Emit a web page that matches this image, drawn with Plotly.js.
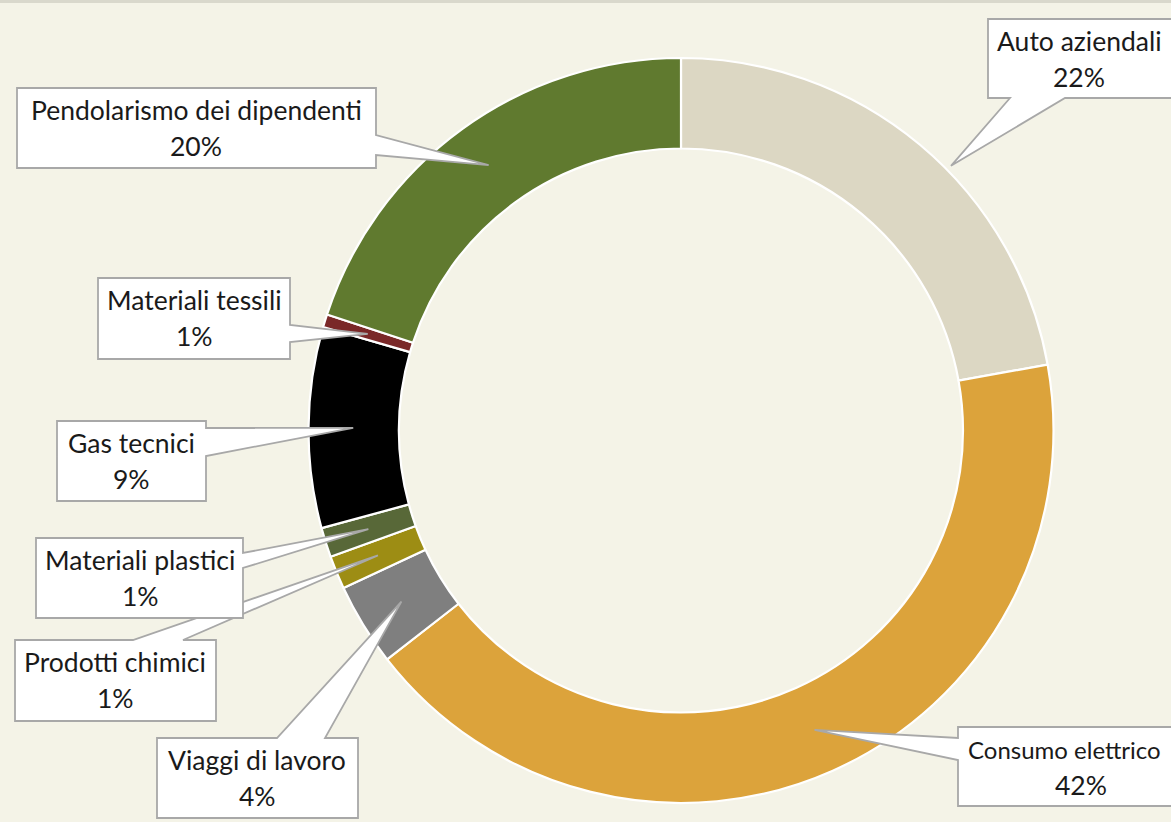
<!DOCTYPE html>
<html>
<head>
<meta charset="utf-8">
<script src="https://cdn.plot.ly/plotly-3.0.1.min.js"></script>
<style>html,body{margin:0;padding:0;background:#f4f3e7;}#chart{width:1171px;height:822px;}</style>
</head>
<body>
<div id="chart"></div>
<script>
// ---- data ----
const categories = ['Auto aziendali','Consumo elettrico','Viaggi di lavoro','Prodotti chimici','Materiali plastici','Gas tecnici','Materiali tessili','Pendolarismo dei dipendenti'];
const shares = [22.17, 42.30, 3.58, 1.45, 1.28, 8.70, 0.56, 19.96];
const sliceColors = ['#dcd7c3','#dca33b','#7f7f7f','#9d8d14','#586838','#000000','#7a2828','#607a2f'];

// ---- layout geometry (pixels) ----
const W = 1171, H = 822;
const CX = 681, CY = 430.5, R = 372.5, HOLE = 0.757;
const X = px => px / W;
const Y = py => 1 - py / H;

// callout boxes: [x0,y0,x1,y1], side of pointer, base span on that side, anchor fraction within slice, radius fraction
const callouts = [
  {box:[988,19,1185,98],  side:'bottom', base:[1010,1065], at:0.571, rf:1.015, tx:1079},
  {box:[958,727,1190,806], side:'left',  base:[738,760],   at:0.5,  rf:0.88,  tx:1081, nameLeft:966, nameSize:24},
  {box:[157,738,358,818], side:'top',    base:[277,325],   at:0.5,  rf:0.88,  tx:257},
  {box:[15,640,216,721],  side:'top',    base:[133,183],   at:0.5,  rf:0.88,  tx:115},
  {box:[36,538,243,618],  side:'right',  base:[553,568],   at:0.5,  rf:0.88,  tx:140},
  {box:[57,421,206,501],  side:'right',  base:[428,456],   at:0.5,  rf:0.88,  tx:131},
  {box:[98,278,290,359],  side:'right',  base:[325,342],   at:0.5,  rf:0.88,  tx:194},
  {box:[17,88,376,168],   side:'right',  base:[135,155],   at:0.5,  rf:0.88,  tx:196}
];
const drawOrder = [0,1,2,3,4,5,6,7];

const total = shares.reduce((a,b)=>a+b,0);
let cum = 0;
const starts = shares.map(v => { const s = cum; cum += v; return s; });

function tipOf(i){
  const c = callouts[i];
  const frac = (starts[i] + c.at * shares[i]) / total;
  const th = frac * 2 * Math.PI;
  const r = c.rf * R;
  return [CX + r * Math.sin(th), CY - r * Math.cos(th)];
}

function calloutPath(i){
  const c = callouts[i];
  const [x0,y0,x1,y1] = c.box;
  const [tx,ty] = tipOf(i);
  const [a,b] = c.base;
  const pts = [];
  pts.push([x0,y0]);
  if (c.side==='top'){ pts.push([a,y0],[tx,ty],[b,y0]); }
  pts.push([x1,y0]);
  if (c.side==='right'){ pts.push([x1,a],[tx,ty],[x1,b]); }
  pts.push([x1,y1]);
  if (c.side==='bottom'){ pts.push([b,y1],[tx,ty],[a,y1]); }
  pts.push([x0,y1]);
  if (c.side==='left'){ pts.push([x0,b],[tx,ty],[x0,a]); }
  return 'M ' + pts.map(p => X(p[0]).toFixed(5)+','+Y(p[1]).toFixed(5)).join(' L ') + ' Z';
}

const shapes = [
  {type:'line', xref:'paper', yref:'paper', x0:0, x1:1, y0:Y(1.5), y1:Y(1.5), line:{color:'#d9d8cc', width:3}}
];
const annotations = [];
const FONT_FAMILY = 'Lato, sans-serif', FONT_COLOR = '#1a1a1a', FONT_SIZE = 26.5;
drawOrder.forEach(i => {
  const c = callouts[i];
  shapes.push({type:'path', xref:'paper', yref:'paper', path:calloutPath(i),
    fillcolor:'#ffffff', line:{color:'#a8a8a8', width:1.8}, layer:'above'});
  const top = c.box[1];
  const left = c.nameLeft !== undefined;
  annotations.push({xref:'paper', yref:'paper', x:X(left ? c.nameLeft : c.tx), y:Y(top+22), text:categories[i],
    showarrow:false, xanchor:left ? 'left' : 'center', yanchor:'middle',
    font:{family:FONT_FAMILY, size:c.nameSize || FONT_SIZE, color:FONT_COLOR}});
  annotations.push({xref:'paper', yref:'paper', x:X(c.tx), y:Y(top+58), text:Math.round(shares[i]/total*100)+'%',
    showarrow:false, xanchor:'center', yanchor:'middle',
    font:{family:FONT_FAMILY, size:FONT_SIZE, color:FONT_COLOR}});
});

const trace = {
  type:'pie',
  labels:categories,
  values:shares,
  hole:HOLE,
  sort:false,
  direction:'clockwise',
  rotation:0,
  textinfo:'none',
  hoverinfo:'label+percent',
  marker:{colors:sliceColors, line:{color:'#ffffff', width:2.2}},
  domain:{x:[X(CX-R), X(CX+R)], y:[Y(CY+R), Y(CY-R)]},
  showlegend:false
};

const layout = {
  width:W, height:H,
  margin:{l:0,r:0,t:0,b:0},
  paper_bgcolor:'#f4f3e7',
  plot_bgcolor:'#f4f3e7',
  showlegend:false,
  shapes:shapes,
  annotations:annotations
};

Plotly.newPlot('chart', [trace], layout, {displayModeBar:false, staticPlot:true});
</script>
</body>
</html>
